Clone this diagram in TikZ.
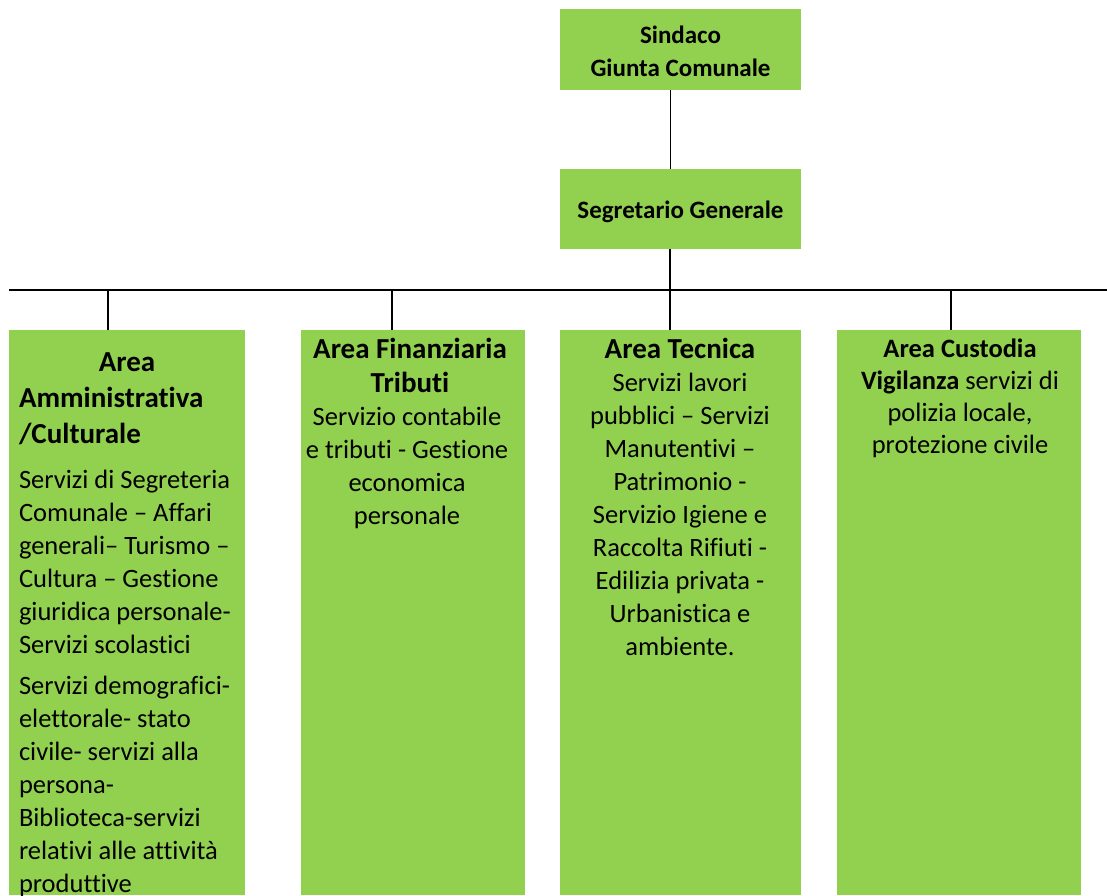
\documentclass[tikz,border=0pt]{standalone}
\usepackage{fontspec}
\setmainfont[Ligatures=NoCommon]{Carlito}
\definecolor{boxgreen}{HTML}{92D050}
\newcommand{\bodyfont}{\fontsize{26.5}{33}\selectfont}
\newcommand{\titlefontA}{\fontsize{29}{36}\selectfont\bfseries}
\newcommand{\titlefontB}{\fontsize{29}{34}\selectfont\bfseries}
\newcommand{\topfont}{\fontsize{25}{33}\selectfont\bfseries}
\newcommand{\custfont}{\fontsize{26.5}{32}\selectfont}
\begin{document}
\begin{tikzpicture}[x=1pt,y=-1pt,
  box/.style={fill=boxgreen, draw=none, inner sep=0pt, outer sep=0pt, anchor=north west},
  bus/.style={line width=2.3pt, black},
  thinconn/.style={line width=1pt, black},
  txt/.style={inner sep=0pt, outer sep=0pt, text=black}]
\useasboundingbox (0,0) rectangle (1107,895);

% boxes
\node[box, minimum width=241pt, minimum height=81pt] (sindaco) at (560,9) {};
\node[box, minimum width=241pt, minimum height=80pt] (segr) at (560,169) {};
\node[box, minimum width=236pt, minimum height=565pt] (amm) at (9,330) {};
\node[box, minimum width=224pt, minimum height=565pt] (fin) at (301,330) {};
\node[box, minimum width=241pt, minimum height=565pt] (tec) at (560,330) {};
\node[box, minimum width=244pt, minimum height=565pt] (cus) at (837,330) {};

% top texts
\node[txt, align=center, font=\topfont] (tsind) at ([yshift=-2pt]sindaco.center) {Sindaco\\Giunta Comunale};
\node[txt, align=center, font=\topfont] (tsegr) at ([yshift=-3pt]segr.center) {Segretario Generale};

% connectors
\coordinate (busL) at (9,290);
\coordinate (busR) at (1107,290);
\draw[thinconn] ([xshift=110pt]sindaco.south west) -- ([xshift=110pt]segr.north west);
\draw[bus] (busL) -- (busR);
\draw[bus] ([xshift=110pt]segr.south west) -- ([xshift=110pt]segr.south west |- busL);
\draw[bus] ([xshift=99pt]amm.north west) -- ([xshift=99pt]amm.north west |- busL);
\draw[bus] ([xshift=91pt]fin.north west) -- ([xshift=91pt]fin.north west |- busL);
\draw[bus] ([xshift=110pt]tec.north west) -- ([xshift=110pt]tec.north west |- busL);
\draw[bus] ([xshift=114pt]cus.north west) -- ([xshift=114pt]cus.north west |- busL);

% Area Amministrativa
\node[txt, anchor=north, font=\titlefontA] (ammt1) at (127,345.8) {\strut Area};
\node[txt, anchor=north west, align=left, font=\titlefontA] (ammt2) at (19,381.8) {\strut Amministrativa\\/Culturale};
\node[txt, anchor=north west, align=left, font=\bodyfont] (ammb1) at (19,464.9)
  {\strut Servizi di Segreteria\\Comunale -- Affari\\generali-- Turismo --\\Cultura -- Gestione\\giuridica personale-\\Servizi scolastici};
\node[txt, anchor=north west, align=left, font=\bodyfont] (ammb2) at (19,670.9)
  {\strut Servizi demografici-\\elettorale- stato\\civile- servizi alla\\persona-\\Biblioteca-servizi\\relativi alle attività\\produttive};

% Area Finanziaria
\node[txt, anchor=north, align=center, font=\titlefontB] (fint) at (410,334.2) {\strut Area Finanziaria\\Tributi};
\node[txt, anchor=north, align=center, font=\bodyfont] (finb) at (407,401.9)
  {\strut Servizio contabile\\e tributi - Gestione\\economica\\personale};

% Area Tecnica
\node[txt, anchor=north, align=center, font=\titlefontB] (tect) at (680,334.2) {\strut Area Tecnica};
\node[txt, anchor=north, align=center, font=\bodyfont] (tecb) at (680,367.9)
  {\strut Servizi lavori\\pubblici -- Servizi\\Manutentivi --\\Patrimonio -\\Servizio Igiene e\\Raccolta Rifiuti -\\Edilizia privata -\\Urbanistica e\\ambiente.};

% Area Custodia
\node[txt, anchor=north, align=center, font=\custfont] (cust) at (960,334.6)
  {\strut\textbf{Area Custodia}\\\textbf{Vigilanza} servizi di\\polizia locale,\\protezione civile};
\end{tikzpicture}
\end{document}
